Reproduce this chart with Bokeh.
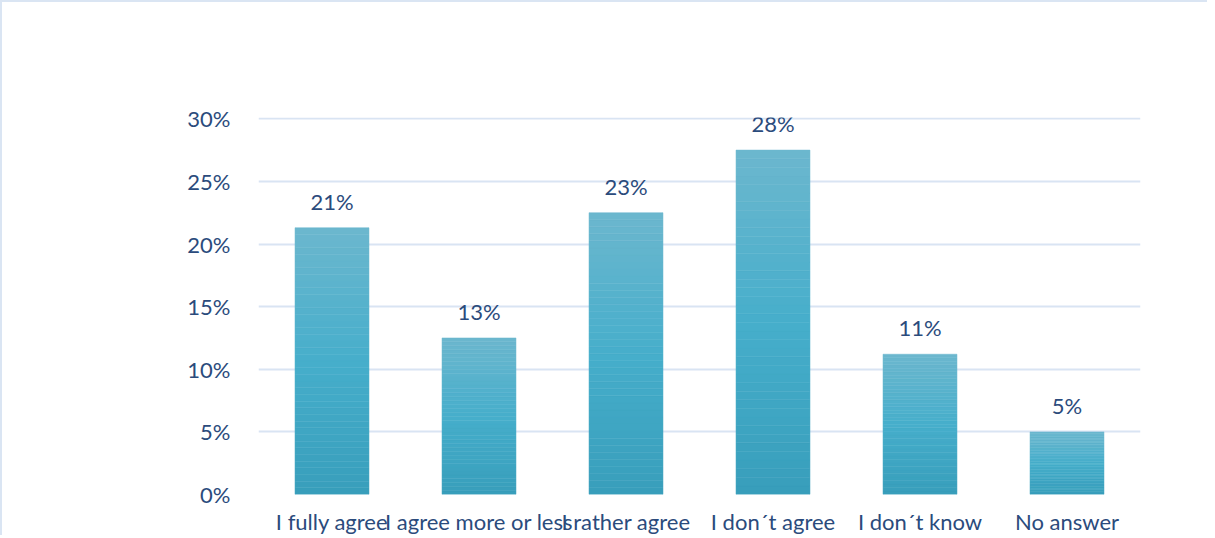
import numpy as np
from bokeh.plotting import figure
from bokeh.models import ColumnDataSource, LabelSet, FixedTicker, Range1d, FactorRange
from bokeh.core.properties import value
from bokeh.embed import file_html
from bokeh.resources import INLINE

categories = ["I fully agree", "I agree more or less", "I rather agree", "I don\u00b4t agree", "I don\u00b4t know", "No answer"]
values = [21.3, 12.5, 22.5, 27.5, 11.2, 5.0]
value_labels = ["21%", "13%", "23%", "28%", "11%", "5%"]
y_ticks = [0, 5, 10, 15, 20, 25, 30]

TEXT = "#2b4b7c"
GRID = "#d9e4f3"
FONT = "Lato"
FS = "22px"

p = figure(width=1207, height=535, x_range=FactorRange(*categories, range_padding=0),
           y_range=Range1d(0, 30.1), output_backend="svg", toolbar_location=None,
           min_border_left=256, min_border_right=69, min_border_top=115, min_border_bottom=40)
p.styles = {"border-left": "2px solid #dae5f3", "border-top": "2px solid #dae5f3"}
p.outline_line_color = None
p.background_fill_color = "white"

# gradient bars made of thin slices
n = 40
top_c = np.array([108, 183, 206])
mid_c = np.array([70, 174, 203])
bot_c = np.array([56, 158, 187])
xs, bots, tops, cols = [], [], [], []
for c, v in zip(categories, values):
    for i in range(n):
        f = (i + 0.5) / n
        if f < 0.5:
            col = bot_c + (mid_c - bot_c) * (f / 0.5)
        else:
            col = mid_c + (top_c - mid_c) * ((f - 0.5) / 0.5)
        xs.append(c)
        bots.append(v * i / n)
        tops.append(v * (i + 1) / n)
        cols.append("#%02x%02x%02x" % tuple(int(round(x)) for x in col))
p.vbar(x=xs, bottom=bots, top=tops, width=0.503, fill_color=cols, line_color=cols, line_width=0.5)

src = ColumnDataSource(dict(x=categories, y=values, t=value_labels))
p.add_layout(LabelSet(x="x", y="y", text="t", source=src, text_align="center", text_baseline="bottom",
                      y_offset=13, text_font=value(FONT), text_font_size=value(FS), text_color=TEXT))

p.xgrid.grid_line_color = None
p.ygrid.grid_line_color = GRID
p.ygrid.grid_line_width = 2
p.ygrid.ticker = FixedTicker(ticks=y_ticks)

p.yaxis.ticker = FixedTicker(ticks=y_ticks)
p.yaxis.major_label_overrides = {t: f"{t}%" for t in y_ticks}
p.yaxis.axis_line_color = None
p.yaxis.major_tick_line_color = None
p.yaxis.minor_tick_line_color = None
p.yaxis.major_label_standoff = 22
p.yaxis.major_label_text_font = FONT
p.yaxis.major_label_text_font_size = FS
p.yaxis.major_label_text_color = TEXT

p.xaxis.axis_line_color = None
p.xaxis.major_tick_line_color = None
p.xaxis.major_label_standoff = 7
p.xaxis.major_label_text_font = FONT
p.xaxis.major_label_text_font_size = FS
p.xaxis.major_label_text_color = TEXT

open("out.html", "w").write(file_html(p, INLINE))
